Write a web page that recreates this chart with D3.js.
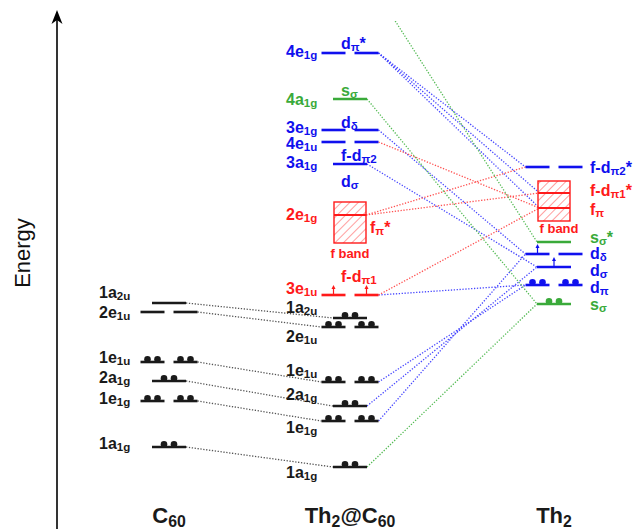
<!DOCTYPE html>
<html>
<head>
<meta charset="utf-8">
<script src="https://cdn.jsdelivr.net/npm/d3@7"></script>
<style>
  body { margin: 0; background: #fff; }
  text { font-family: "Liberation Sans", Arial, sans-serif; }
</style>
</head>
<body>
<div id="chart"></div>
<script>
const W = 636, H = 529;

// columns of the diagram
const columns = ["C60", "Th2@C60", "Th2"];
const columnTitles = ["C_{60}", "Th_{2}@C_{60}", "Th_{2}"];

// energy levels, arbitrary units
// kind: single | split (degenerate pair) | boxline (line inside an f band box)
const c60Levels = [
  {id: "c1a2u", col: "C60", label: "1a_{2u}", e: 197, kind: "single", color: "k"},
  {id: "c2e1u", col: "C60", label: "2e_{1u}", e: 188, kind: "split", color: "k"},
  {id: "c1e1u", col: "C60", label: "1e_{1u}", e: 138, kind: "split", color: "k", elec: "pair"},
  {id: "c2a1g", col: "C60", label: "2a_{1g}", e: 119, kind: "single", color: "k", elec: "pair"},
  {id: "c1e1g", col: "C60", label: "1e_{1g}", e: 99, kind: "split", color: "k", elec: "pair"},
  {id: "c1a1g", col: "C60", label: "1a_{1g}", e: 53, kind: "single", color: "k", elec: "pair"}
];

const th2c60Levels = [
  {id: "m5a1g", col: "Th2@C60", e: 523, kind: "single", color: "g", hidden: true},
  {id: "m4e1g", col: "Th2@C60", label: "4e_{1g}", e: 447, kind: "split", color: "b"},
  {id: "m4a1g", col: "Th2@C60", label: "4a_{1g}", e: 401, kind: "single", color: "g"},
  {id: "m3e1g", col: "Th2@C60", label: "3e_{1g}", e: 370, kind: "split", color: "b"},
  {id: "m4e1u", col: "Th2@C60", label: "4e_{1u}", e: 358, kind: "split", color: "b"},
  {id: "m3a1g", col: "Th2@C60", label: "3a_{1g}", e: 336, kind: "single", color: "b"},
  {id: "m2e1g", col: "Th2@C60", label: "2e_{1g}", e: 285, kind: "boxline", color: "r"},
  {id: "m3e1u", col: "Th2@C60", label: "3e_{1u}", e: 205, kind: "split", color: "r", elec: "up"},
  {id: "m1a2u", col: "Th2@C60", label: "1a_{2u}", e: 182, kind: "single", color: "k", elec: "pair"},
  {id: "m2e1u", col: "Th2@C60", label: "2e_{1u}", e: 173, kind: "split", color: "k", elec: "pair"},
  {id: "m1e1u", col: "Th2@C60", label: "1e_{1u}", e: 118, kind: "split", color: "k", elec: "pair"},
  {id: "m2a1g", col: "Th2@C60", label: "2a_{1g}", e: 94, kind: "single", color: "k", elec: "pair"},
  {id: "m1e1g", col: "Th2@C60", label: "1e_{1g}", e: 79, kind: "split", color: "k", elec: "pair"},
  {id: "m1a1g", col: "Th2@C60", label: "1a_{1g}", e: 33, kind: "single", color: "k", elec: "pair"}
];

const th2Levels = [
  {id: "tfdpi2", col: "Th2", label: "f-d_{π2}*", e: 333, kind: "split", color: "b"},
  {id: "tfdpi1", col: "Th2", label: "f-d_{π1}*", e: 307, kind: "boxline", color: "r"},
  {id: "tfpi", col: "Th2", label: "f_{π}", e: 292, kind: "boxline", color: "r"},
  {id: "tssig2", col: "Th2", label: "s_{σ}*", e: 258, kind: "single", color: "g"},
  {id: "tdd", col: "Th2", label: "d_{δ}", e: 246, kind: "split", color: "b", elec: "upLeft"},
  {id: "tds", col: "Th2", label: "d_{σ}", e: 233, kind: "single", color: "b", elec: "up"},
  {id: "tdp", col: "Th2", label: "d_{π}", e: 215, kind: "split", color: "b", elec: "pair"},
  {id: "tss", col: "Th2", label: "s_{σ}", e: 196, kind: "single", color: "g", elec: "pair"}
];

// f band boxes (top / bottom energy)
const fBands = [
  {col: "Th2@C60", top: 298, bottom: 257, color: "r"},
  {col: "Th2", top: 319, bottom: 279, color: "r"}
];

// energy at which each level's name sits (names are not always level with the line)
const labelEnergy = {
  c1a2u: 208, c2e1u: 188, c1e1u: 143, c2a1g: 123, c1e1g: 102, c1a1g: 57,
  m4e1g: 449, m4a1g: 401, m3e1g: 373, m4e1u: 357, m3a1g: 338, m2e1g: 286,
  m3e1u: 212, m1a2u: 193, m2e1u: 164, m1e1u: 130, m2a1g: 106, m1e1g: 73, m1a1g: 28,
  tfdpi2: 333, tfdpi1: 310, tfpi: 291, tssig2: 263, tdd: 247, tds: 230, tdp: 213, tss: 196
};

// character notes next to the Th2@C60 levels
const notes = [
  {col: "Th2@C60", text: "d_{π}*", e: 457, color: "b"},
  {col: "Th2@C60", text: "s_{σ}", e: 410, color: "g"},
  {col: "Th2@C60", text: "d_{δ}", e: 378, color: "b"},
  {col: "Th2@C60", text: "f-d_{π2}", e: 345, color: "b"},
  {col: "Th2@C60", text: "d_{σ}", e: 319, color: "b"},
  {col: "Th2@C60", text: "f_{π}*", e: 273, color: "r", right: true},
  {col: "Th2@C60", text: "f band", e: 247, color: "r", band: true},
  {col: "Th2@C60", text: "f-d_{π1}", e: 224, color: "r"},
  {col: "Th2", text: "f band", e: 272, color: "r", band: true}
];

// correlation lines: [from level (right end), to level (left end), colour]
const links = [
  ["c1a2u", "m1a2u", "k"], ["c2e1u", "m2e1u", "k"], ["c1e1u", "m1e1u", "k"],
  ["c2a1g", "m2a1g", "k"], ["c1e1g", "m1e1g", "k"], ["c1a1g", "m1a1g", "k"],
  ["m4e1g", "tfdpi2", "b"], ["m4e1g", "tfdpi1", "b"], ["m4e1g", "tfpi", "b"],
  ["m3e1g", "tdd", "b"], ["m3a1g", "tds", "b"], ["m3e1u", "tdp", "b"],
  ["m1e1u", "tdp", "b"], ["m2a1g", "tds", "b"], ["m1e1g", "tdd", "b"],
  ["m4e1u", "tfpi", "r"], ["m2e1g", "tfdpi2", "r"], ["m2e1g", "tfdpi1", "r"],
  ["m3e1u", "tfpi", "r"],
  ["m5a1g", "tssig2", "g"], ["m4a1g", "tss", "g"], ["m1a1g", "tss", "g"]
];

const levelColor = {k: "#1a1a1a", b: "#1010ee", r: "#ff1a1a", g: "#3aaa3a"};
const linkColor = {k: "#555", b: "#4646ff", r: "#ff5050", g: "#55bb55"};

const svg = d3.select("#chart").append("svg").attr("width", W).attr("height", H);

const y = d3.scaleLinear().domain([0, 500]).range([500, 0]);
const x = d3.scaleOrdinal().domain(columns).range([169, 350, 554]);
const half = {single: 17, split: 28.5, boxline: 16};
const gap = 4.5;

const allLevels = c60Levels.concat(th2c60Levels, th2Levels);
const byId = {};
allLevels.forEach(d => byId[d.id] = d);

// subscript-aware text
function rich(sel, str, size) {
  const parts = str.split(/(_\{[^}]*\})/).filter(s => s.length);
  let shift = 0;
  parts.forEach(p => {
    const sub = p.startsWith("_{");
    const target = sub ? size * 0.17 : 0;
    sel.append("tspan")
      .attr("dy", target - shift)
      .attr("font-size", sub ? size * 0.72 : size)
      .text(sub ? p.slice(2, -1) : p);
    shift = target;
  });
}

// diagonal hatch
const defs = svg.append("defs");
defs.append("pattern")
  .attr("id", "hatch").attr("patternUnits", "userSpaceOnUse")
  .attr("width", 6).attr("height", 6).attr("patternTransform", "rotate(45)")
  .append("line").attr("x1", 0).attr("y1", 0).attr("x2", 0).attr("y2", 6)
  .attr("stroke", "#ff4040").attr("stroke-width", 1);
// the figure is cropped just above the top level
defs.append("clipPath").attr("id", "crop")
  .append("rect").attr("x", 0).attr("y", 21).attr("width", W).attr("height", H);

// energy axis
svg.append("line").attr("x1", 57).attr("x2", 57).attr("y1", H).attr("y2", 14)
  .attr("stroke", "#000").attr("stroke-width", 1.6);
svg.append("path").attr("d", "M57,10 L51.5,24 L57,20 L62.5,24 Z").attr("fill", "#000");
svg.append("text").attr("transform", "translate(30,253) rotate(-90)")
  .attr("text-anchor", "middle").attr("font-size", 22).attr("fill", "#111").text("Energy");

// correlation lines
const ends = d => {
  const cx = x(d.col), h = half[d.kind];
  return {l: cx - h + (d.kind === "boxline" ? 1.5 : 0), r: cx + h, y: y(d.e)};
};
svg.append("g").attr("clip-path", "url(#crop)")
  .selectAll("line").data(links).join("line")
  .attr("x1", d => ends(byId[d[0]]).r).attr("y1", d => ends(byId[d[0]]).y)
  .attr("x2", d => ends(byId[d[1]]).l).attr("y2", d => ends(byId[d[1]]).y)
  .attr("stroke", d => linkColor[d[2]]).attr("stroke-width", 1.3)
  .attr("stroke-dasharray", "1.3,1.6");

// f band boxes
fBands.forEach(b => {
  const cx = x(b.col);
  svg.append("rect").attr("x", cx - 16).attr("y", y(b.top))
    .attr("width", 32).attr("height", y(b.bottom) - y(b.top))
    .attr("fill", "url(#hatch)").attr("stroke", levelColor[b.color]).attr("stroke-width", 1.4);
});

// level lines
const visible = allLevels.filter(d => !d.hidden);
visible.forEach(d => {
  const cx = x(d.col), h = half[d.kind], yy = y(d.e), c = levelColor[d.color];
  const segs = d.kind === "split" ? [[cx - h, cx - gap], [cx + gap, cx + h]] : [[cx - h, cx + h]];
  const sw = d.kind === "boxline" ? 2 : 2.6;
  segs.forEach((s, i) => {
    svg.append("line").attr("x1", s[0]).attr("x2", s[1]).attr("y1", yy).attr("y2", yy)
      .attr("stroke", c).attr("stroke-width", sw);
    const mid = (s[0] + s[1]) / 2;
    if (d.elec === "pair") {
      [-5, 5].forEach(o => svg.append("circle").attr("cx", mid + o).attr("cy", yy - 2.8)
        .attr("r", 3.3).attr("fill", c));
    }
    if (d.elec === "up" || (d.elec === "upLeft" && i === 0)) {
      svg.append("line").attr("x1", mid).attr("x2", mid).attr("y1", yy).attr("y2", yy - 8)
        .attr("stroke", c).attr("stroke-width", 1.2);
      svg.append("path").attr("d", `M${mid},${yy - 10} L${mid - 2},${yy - 6} L${mid + 2},${yy - 6} Z`)
        .attr("fill", c);
    }
  });
});

// level names
const nameX = {"C60": -70, "Th2@C60": -64, "Th2": 36};
visible.filter(d => d.label).forEach(d => {
  const size = 16;
  const t = svg.append("text")
    .attr("x", x(d.col) + nameX[d.col])
    .attr("y", y(labelEnergy[d.id]) + size * 0.36)
    .attr("font-weight", "bold").attr("fill", levelColor[d.color]);
  rich(t, d.label, size);
});

// character notes
notes.forEach(n => {
  const size = n.band ? 13 : 16;
  const t = svg.append("text")
    .attr("x", x(n.col) + (n.band ? (n.col === "Th2" ? 5 : 0) : n.right ? 20 : -9))
    .attr("y", y(n.e) + size * 0.36)
    .attr("text-anchor", n.band ? "middle" : "start")
    .attr("font-weight", "bold").attr("fill", levelColor[n.color]);
  rich(t, n.text, size);
});

// column titles
columnTitles.forEach((s, i) => {
  const t = svg.append("text").attr("x", x(columns[i])).attr("y", 523)
    .attr("text-anchor", "middle").attr("font-weight", "bold").attr("fill", "#1a1a1a");
  rich(t, s, 22);
});
</script>
</body>
</html>
